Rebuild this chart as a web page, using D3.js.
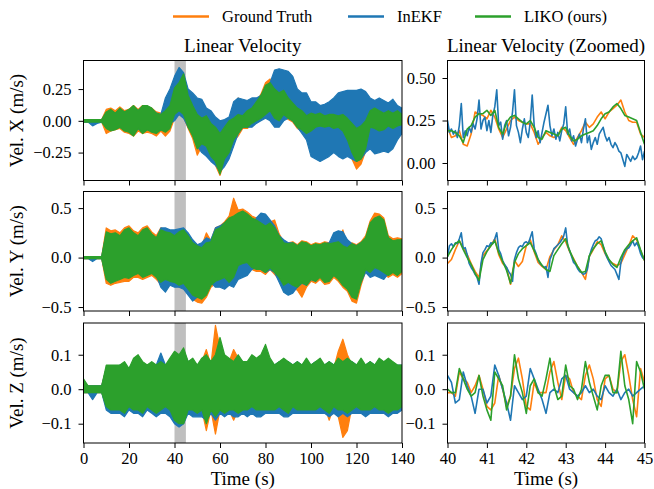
<!DOCTYPE html>
<html>
<head>
<meta charset="utf-8">
<script src="https://cdn.jsdelivr.net/npm/d3@7"></script>
<style>
    body { margin: 0; background: #fff; }
    svg text { font-family: "Liberation Serif", "Times New Roman", serif; fill: #000; }
</style>
</head>
<body>
<div id="chart"></div>
<script>
// ---- data ----
// left column: envelope (min / max) of each signal, sampled every 2 s from 0 to 140 s
var leftTime = d3.range(0, 141, 2);

var velXGtHi   = [0.01,0.01,0.01,0.01,0.01, 0.09,0.10,0.08,0.11,0.08, 0.09,0.12,0.09,0.12,0.11, 0.10,0.07,0.06,0.08,0.12, 0.24,0.28,0.35,0.20,0.12, 0.06,0.03,0.05,-0.01,-0.04, -0.08,-0.04,0.00,0.05,0.18, 0.06,0.08,0.10,0.15,0.21, 0.30,0.33,0.26,0.23,0.24, 0.19,0.15,0.11,0.09,0.05, 0.06,0.05,0.06,0.05,0.05, 0.05,0.04,0.06,0.02,-0.02, -0.06,-0.04,0.00,0.09,0.11, 0.08,0.07,0.09,0.07,0.09, 0.06];
var velXGtLo   = [-0.01,-0.01,-0.01,-0.01,-0.01, -0.10,-0.08,-0.07,-0.06,-0.09, -0.10,-0.12,-0.08,-0.10,-0.09, -0.10,-0.12,-0.08,-0.12,-0.08, 0.02,0.05,0.03,-0.06,-0.14, -0.27,-0.20,-0.22,-0.30,-0.35, -0.43,-0.32,-0.26,-0.16,-0.12, -0.06,-0.06,-0.03,-0.01,0.01, 0.04,0.07,0.01,-0.01,0.04, 0.01,-0.01,-0.06,-0.08,-0.12, -0.09,-0.06,-0.05,-0.06,-0.05, -0.07,-0.06,-0.09,-0.17,-0.30, -0.38,-0.34,-0.24,-0.06,-0.07, -0.09,-0.08,-0.05,-0.07,-0.05, -0.04];
var velXEkfHi  = [0.01,0.01,0.01,0.01,0.01, 0.06,0.08,0.06,0.09,0.07, 0.08,0.11,0.08,0.11,0.11, 0.09,0.06,0.05,0.18,0.25, 0.35,0.42,0.38,0.25,0.22, 0.18,0.17,0.10,0.08,0.03, 0.00,0.01,0.03,0.15,0.18, 0.17,0.16,0.18,0.18,0.20, 0.25,0.30,0.40,0.41,0.40, 0.39,0.35,0.25,0.22,0.22, 0.15,0.15,0.12,0.13,0.15, 0.18,0.22,0.23,0.24,0.24, 0.24,0.25,0.23,0.18,0.16, 0.18,0.16,0.14,0.17,0.12, 0.10];
var velXEkfLo  = [-0.01,-0.01,-0.04,-0.02,-0.01, -0.05,-0.07,-0.06,-0.05,-0.07, -0.08,-0.11,-0.06,-0.09,-0.07, -0.08,-0.09,-0.07,-0.08,-0.02, 0.00,0.05,0.02,-0.05,-0.10, -0.20,-0.25,-0.28,-0.32,-0.35, -0.40,-0.36,-0.30,-0.20,-0.10, -0.05,-0.05,-0.05,-0.02,0.00, 0.02,0.00,-0.05,-0.05,0.00, 0.02,0.00,-0.05,-0.10,-0.15, -0.28,-0.30,-0.32,-0.30,-0.28, -0.25,-0.28,-0.30,-0.28,-0.30, -0.32,-0.30,-0.25,-0.22,-0.26, -0.25,-0.24,-0.25,-0.22,-0.15, -0.10];
var velXLikoHi = [0.01,0.01,0.01,0.01,0.01, 0.07,0.09,0.06,0.10,0.07, 0.09,0.12,0.08,0.12,0.12, 0.10,0.06,0.05,0.08,0.12, 0.26,0.30,0.37,0.20,0.12, 0.05,0.02,0.04,-0.02,-0.05, -0.10,-0.05,0.00,0.02,0.05, 0.04,0.08,0.10,0.15,0.20, 0.28,0.30,0.25,0.22,0.24, 0.18,0.14,0.10,0.08,0.04, 0.06,0.05,0.06,0.04,0.05, 0.05,0.04,0.05,0.02,-0.02, -0.06,-0.04,0.00,0.08,0.10, 0.08,0.06,0.08,0.06,0.08, 0.05];
var velXLikoLo = [-0.01,-0.01,-0.01,-0.01,-0.01, -0.06,-0.08,-0.07,-0.05,-0.08, -0.09,-0.12,-0.06,-0.10,-0.07, -0.09,-0.10,-0.07,-0.09,-0.06, 0.05,0.08,0.05,-0.05,-0.12, -0.22,-0.18,-0.20,-0.28,-0.32, -0.42,-0.30,-0.25,-0.15,-0.10, -0.05,-0.05,-0.02,0.00,0.02, 0.05,0.08,0.02,0.00,0.05, 0.02,0.00,-0.05,-0.07,-0.10, -0.08,-0.05,-0.04,-0.05,-0.04, -0.06,-0.05,-0.08,-0.15,-0.25, -0.32,-0.30,-0.22,-0.05,-0.06, -0.08,-0.07,-0.04,-0.06,-0.04, -0.03];

var velYGtHi   = [0.01,0.01,0.01,0.01,0.01, 0.30,0.27,0.28,0.25,0.30, 0.32,0.27,0.25,0.30,0.32, 0.26,0.22,0.30,0.28,0.26, 0.23,0.27,0.28,0.22,0.16, 0.13,0.12,0.25,0.17,0.30, 0.32,0.36,0.42,0.60,0.48, 0.49,0.46,0.42,0.40,0.36, 0.33,0.36,0.38,0.24,0.16, 0.15,0.16,0.13,0.17,0.16, 0.13,0.15,0.14,0.16,0.15, 0.16,0.17,0.28,0.12,0.15, 0.13,0.16,0.22,0.37,0.45, 0.44,0.40,0.22,0.19,0.20, 0.19];
var velYGtLo   = [-0.01,-0.01,-0.01,-0.01,-0.01, -0.26,-0.28,-0.26,-0.25,-0.24, -0.24,-0.20,-0.20,-0.22,-0.20, -0.18,-0.22,-0.27,-0.24,-0.26, -0.27,-0.30,-0.28,-0.35,-0.42, -0.45,-0.46,-0.40,-0.30,-0.26, -0.24,-0.22,-0.27,-0.22,-0.10, -0.08,-0.07,-0.12,-0.14,-0.14, -0.17,-0.12,-0.17,-0.22,-0.30, -0.28,-0.30,-0.33,-0.40,-0.30, -0.24,-0.26,-0.22,-0.27,-0.26, -0.20,-0.24,-0.30,-0.34,-0.44, -0.46,-0.28,-0.14,-0.17,-0.12, -0.14,-0.17,-0.20,-0.17,-0.20, -0.16];
var velYEkfHi  = [0.01,0.01,0.01,0.01,0.01, 0.24,0.22,0.23,0.20,0.26, 0.28,0.23,0.20,0.26,0.28, 0.22,0.19,0.30,0.30,0.28, 0.28,0.29,0.30,0.25,0.18, 0.13,0.15,0.20,0.18,0.30, 0.32,0.35,0.38,0.40,0.35, 0.30,0.28,0.30,0.40,0.45, 0.44,0.38,0.32,0.22,0.18, 0.15,0.15,0.12,0.14,0.12, 0.10,0.12,0.12,0.14,0.15, 0.25,0.27,0.26,0.18,0.14, 0.12,0.15,0.18,0.30,0.35, 0.38,0.32,0.20,0.16,0.16, 0.16];
var velYEkfLo  = [-0.01,-0.01,-0.04,-0.01,-0.01, -0.20,-0.24,-0.22,-0.20,-0.18, -0.19,-0.16,-0.15,-0.18,-0.17, -0.15,-0.18,-0.30,-0.35,-0.28, -0.30,-0.30,-0.32,-0.38,-0.44, -0.40,-0.38,-0.30,-0.25,-0.30, -0.30,-0.32,-0.28,-0.30,-0.22, -0.20,-0.18,-0.12,-0.10,-0.12, -0.15,-0.12,-0.15,-0.25,-0.35, -0.38,-0.36,-0.30,-0.26,-0.28, -0.22,-0.24,-0.18,-0.22,-0.20, -0.18,-0.20,-0.25,-0.30,-0.33, -0.35,-0.25,-0.15,-0.20,-0.18, -0.20,-0.22,-0.16,-0.14,-0.16, -0.13];
var velYLikoHi = [0.01,0.01,0.01,0.01,0.01, 0.26,0.24,0.25,0.22,0.28, 0.30,0.25,0.22,0.28,0.30, 0.24,0.20,0.28,0.26,0.25, 0.22,0.26,0.28,0.22,0.15, 0.12,0.10,0.15,0.16,0.28, 0.30,0.35,0.40,0.42,0.45, 0.47,0.44,0.40,0.38,0.35, 0.32,0.35,0.30,0.22,0.15, 0.14,0.15,0.12,0.16,0.15, 0.12,0.14,0.13,0.15,0.14, 0.15,0.16,0.12,0.10,0.14, 0.12,0.15,0.20,0.35,0.40, 0.42,0.38,0.20,0.17,0.18, 0.18];
var velYLikoLo = [-0.01,-0.01,-0.01,-0.01,-0.01, -0.22,-0.26,-0.24,-0.22,-0.20, -0.21,-0.18,-0.16,-0.20,-0.18, -0.16,-0.20,-0.25,-0.22,-0.24, -0.25,-0.28,-0.26,-0.32,-0.38, -0.40,-0.42,-0.38,-0.28,-0.24, -0.22,-0.20,-0.25,-0.20,-0.08, -0.06,-0.05,-0.10,-0.12,-0.12, -0.15,-0.10,-0.15,-0.20,-0.28, -0.25,-0.28,-0.30,-0.25,-0.28, -0.22,-0.24,-0.20,-0.25,-0.24, -0.18,-0.22,-0.28,-0.32,-0.40, -0.42,-0.25,-0.12,-0.15,-0.10, -0.12,-0.15,-0.18,-0.15,-0.18, -0.14];

var velZGtHi   = [0.01,0.01,0.01,0.01,0.01, 0.06,0.06,0.06,0.06,0.07, 0.05,0.08,0.09,0.07,0.06, 0.07,0.06,0.07,0.06,0.08, 0.10,0.09,0.11,0.07,0.08, 0.06,0.08,0.115,0.07,0.185, 0.12,0.09,0.08,0.115,0.09, 0.07,0.07,0.09,0.08,0.09, 0.11,0.08,0.06,0.07,0.08, 0.07,0.06,0.07,0.06,0.08, 0.06,0.07,0.08,0.06,0.07, 0.06,0.11,0.145,0.10,0.07, 0.06,0.08,0.06,0.07,0.06, 0.08,0.07,0.08,0.07,0.06, 0.06];
var velZGtLo   = [-0.01,-0.01,-0.01,-0.01,-0.01, -0.05,-0.05,-0.05,-0.05,-0.06, -0.05,-0.05,-0.05,-0.06,-0.05, -0.05,-0.06,-0.05,-0.05,-0.05, -0.08,-0.09,-0.09,-0.05,-0.06, -0.06,-0.06,-0.12,-0.06,-0.13, -0.06,-0.06,-0.06,-0.09,-0.06, -0.05,-0.05,-0.05,-0.05,-0.05, -0.05,-0.05,-0.05,-0.05,-0.05, -0.06,-0.05,-0.05,-0.05,-0.05, -0.05,-0.05,-0.05,-0.05,-0.09, -0.05,-0.08,-0.14,-0.12,-0.05, -0.05,-0.05,-0.05,-0.05,-0.05, -0.05,-0.05,-0.06,-0.05,-0.05, -0.05];
var velZEkfHi  = [0.01,0.01,0.01,0.01,0.01, 0.06,0.06,0.06,0.07,0.07, 0.06,0.08,0.09,0.07,0.07, 0.07,0.07,0.105,0.07,0.08, 0.10,0.09,0.11,0.08,0.08, 0.07,0.08,0.09,0.08,0.09, 0.12,0.09,0.08,0.07,0.09, 0.08,0.07,0.09,0.08,0.09, 0.11,0.08,0.07,0.08,0.08, 0.08,0.07,0.08,0.07,0.08, 0.07,0.08,0.08,0.07,0.08, 0.07,0.08,0.08,0.08,0.08, 0.07,0.08,0.07,0.08,0.07, 0.08,0.08,0.08,0.07,0.07, 0.07];
var velZEkfLo  = [-0.01,-0.01,-0.03,-0.01,-0.01, -0.06,-0.07,-0.07,-0.07,-0.08, -0.06,-0.07,-0.07,-0.08,-0.06, -0.07,-0.08,-0.07,-0.07,-0.08, -0.10,-0.11,-0.10,-0.07,-0.08, -0.08,-0.08,-0.09,-0.07,-0.09, -0.07,-0.08,-0.07,-0.08,-0.08, -0.07,-0.08,-0.07,-0.08,-0.08, -0.07,-0.07,-0.07,-0.07,-0.08, -0.08,-0.07,-0.07,-0.07,-0.07, -0.07,-0.07,-0.07,-0.07,-0.08, -0.07,-0.08,-0.07,-0.08,-0.07, -0.07,-0.07,-0.08,-0.07,-0.07, -0.07,-0.07,-0.08,-0.07,-0.07, -0.06];
var velZLikoHi = [0.03,0.01,0.01,0.01,0.01, 0.07,0.07,0.07,0.07,0.08, 0.06,0.09,0.10,0.08,0.07, 0.08,0.07,0.08,0.07,0.09, 0.11,0.10,0.12,0.08,0.09, 0.07,0.09,0.10,0.08,0.10, 0.15,0.10,0.09,0.08,0.10, 0.08,0.08,0.10,0.09,0.10, 0.13,0.09,0.07,0.08,0.09, 0.08,0.07,0.08,0.07,0.09, 0.07,0.08,0.09,0.07,0.08, 0.07,0.09,0.08,0.09,0.08, 0.07,0.09,0.07,0.08,0.07, 0.09,0.08,0.09,0.08,0.07, 0.07];
var velZLikoLo = [-0.01,-0.01,-0.01,-0.01,-0.01, -0.05,-0.06,-0.06,-0.06,-0.07, -0.05,-0.06,-0.06,-0.07,-0.05, -0.06,-0.07,-0.06,-0.05,-0.06, -0.09,-0.10,-0.10,-0.06,-0.06, -0.07,-0.06,-0.10,-0.06,-0.08, -0.06,-0.07,-0.06,-0.06,-0.07, -0.06,-0.06,-0.05,-0.06,-0.06, -0.06,-0.06,-0.06,-0.05,-0.06, -0.07,-0.05,-0.06,-0.06,-0.06, -0.06,-0.06,-0.05,-0.06,-0.07, -0.05,-0.06,-0.06,-0.07,-0.06, -0.05,-0.06,-0.06,-0.06,-0.05, -0.06,-0.06,-0.07,-0.06,-0.06, -0.05];

// right column: 40 s to 45 s, samples spread evenly over the window
var zoomStart = 40, zoomEnd = 45;

var zoomXGt   = [0.21,0.15,0.16,0.19,0.11, 0.10,0.17,0.30,0.29,0.28, 0.26,0.31,0.27,0.20,0.15, 0.20,0.25,0.27,0.25,0.24, 0.23,0.23,0.18,0.11,0.15, 0.18,0.16,0.15,0.16,0.21, 0.19,0.15,0.11,0.15,0.19, 0.24,0.21,0.23,0.27,0.30, 0.26,0.30,0.32,0.34,0.37, 0.30,0.25,0.24,0.24,0.17, 0.15];
var zoomXEkf  = [0.25,0.18,0.20,0.17,0.19,0.15,0.22,0.35,0.15,0.19, 0.16,0.21,0.18,0.23,0.20,0.26,0.37,0.20,0.25,0.27, 0.19,0.25,0.18,0.28,0.33,0.43,0.22,0.24,0.14,0.22, 0.25,0.16,0.21,0.30,0.43,0.22,0.18,0.12,0.20,0.26, 0.18,0.15,0.24,0.40,0.22,0.15,0.19,0.12,0.18,0.24, 0.29,0.34,0.22,0.16,0.20,0.14,0.18,0.13,0.19,0.23, 0.33,0.17,0.20,0.13,0.16,0.10,0.14,0.17,0.12,0.20, 0.26,0.12,0.16,0.08,0.12,0.15,0.11,0.17,0.19,0.21, 0.16,0.13,0.15,0.11,0.09,0.12,0.10,0.07,0.06,0.02, -0.02,0.05,0.03,0.01,0.04,0.02,0.03,0.06,0.10,0.02, 0.07];
var zoomXLiko = [0.19,0.19,0.18,0.16,0.12, 0.20,0.22,0.27,0.29,0.29, 0.31,0.28,0.31,0.21,0.17, 0.24,0.27,0.28,0.26,0.24, 0.23,0.25,0.21,0.15,0.14, 0.19,0.18,0.17,0.16,0.20, 0.21,0.16,0.13,0.14,0.16, 0.17,0.18,0.19,0.22,0.26, 0.29,0.30,0.33,0.35,0.32, 0.28,0.27,0.26,0.25,0.18, 0.11];

var zoomYGt   = [-0.06,-0.02,0.08,0.17,0.10, 0.03,-0.06,-0.14,-0.20,0.02, 0.07,0.12,0.19,0.03,-0.06, -0.10,-0.27,-0.03,-0.09,-0.04, 0.12,0.18,0.06,-0.05,-0.09, -0.12,0.01,0.08,0.13,0.22, 0.16,0.06,-0.01,-0.09,-0.15, -0.22,0.01,0.08,0.16,0.13, 0.04,-0.03,-0.06,-0.08,-0.06, 0.03,0.12,0.22,0.18,0.07, -0.03];
var zoomYEkf  = [0.01,0.12,0.14,0.11,0.15,0.14,0.19,0.25,0.09,0.10, 0.03,-0.06,-0.10,-0.13,-0.17,-0.20,-0.27,-0.06,0.05,0.08, 0.12,0.11,0.15,0.14,0.19,0.25,0.08,0.04,-0.03,-0.07, -0.10,-0.14,-0.17,-0.24,-0.02,0.05,0.10,0.12,0.11,0.15, 0.16,0.14,0.20,0.26,0.09,0.04,-0.02,-0.06,-0.08,-0.10, -0.09,-0.20,-0.02,0.03,0.09,0.11,0.13,0.15,0.18,0.22, 0.30,0.12,0.07,0.01,-0.05,-0.07,-0.11,-0.14,-0.15,-0.17, -0.16,-0.12,0.01,0.08,0.13,0.17,0.18,0.21,0.19,0.12, 0.05,0.00,-0.04,-0.08,-0.10,-0.12,-0.17,-0.22,-0.05,0.02, 0.06,0.09,0.10,0.13,0.17,0.12,0.15,0.11,0.04,0.00, -0.02];
var zoomYLiko = [0.01,0.08,0.14,0.17,0.08, 0.00,-0.07,-0.16,-0.23,-0.02, 0.06,0.12,0.17,0.05,-0.04, -0.13,-0.26,-0.05,0.04,0.09, 0.12,0.15,0.07,-0.02,-0.08, -0.12,-0.14,0.02,0.08,0.14, 0.19,0.07,-0.02,-0.09,-0.15, -0.14,0.02,0.09,0.14,0.17, 0.06,-0.02,-0.07,-0.10,0.00, 0.08,0.13,0.17,0.20,0.08, -0.03];

var zoomZGt   = [-0.01,-0.01,-0.02,0.05,0.03, 0.02,-0.01,0.01,0.04,0.00, -0.05,-0.06,-0.04,0.04,0.00, -0.05,-0.02,0.06,0.09,0.03, -0.05,-0.06,0.02,-0.01,-0.01, -0.01,0.05,0.08,0.02,-0.03, 0.04,0.03,-0.01,-0.02,-0.03, 0.04,0.07,0.03,-0.03,-0.05, 0.03,0.04,0.00,-0.01,0.08, 0.10,0.04,-0.03,-0.08,0.06, 0.02];
var zoomZEkf  = [0.04,0.02,-0.04,-0.03,0.05, 0.01,-0.02,-0.07,0.00,0.00, -0.04,-0.02,0.07,0.04,0.00, -0.04,-0.09,0.01,-0.01,-0.03, -0.02,0.06,0.03,0.00,-0.03, -0.07,-0.01,0.00,-0.01,0.03, 0.04,0.00,-0.01,-0.02,-0.01, 0.01,-0.01,0.00,-0.02,-0.03, 0.01,-0.01,-0.02,0.00,-0.03, -0.01,0.00,-0.02,-0.01,0.00, 0.01];
var zoomZLiko = [0.00,-0.01,-0.01,0.06,0.03, 0.00,-0.02,-0.01,0.04,-0.02, -0.06,-0.09,0.05,0.03,0.01, -0.06,-0.02,0.10,0.03,-0.01, -0.07,0.01,0.03,-0.01,-0.02, 0.03,0.09,0.01,-0.03,-0.02, 0.07,0.01,0.00,-0.03,0.00, 0.08,0.02,-0.02,-0.06,0.01, 0.04,0.04,-0.01,-0.01,0.11, 0.01,-0.03,-0.10,0.08,0.05, 0.00];

var seriesNames  = ['Ground Truth', 'InEKF', 'LIKO (ours)'];
var seriesColors = ['#ff7f0e', '#1f77b4', '#2ca02c'];

var rowLabels = ['Vel. X (m/s)', 'Vel. Y (m/s)', 'Vel. Z (m/s)'];
var leftTicksX = [0, 20, 40, 60, 80, 100, 120, 140];
var rightTicksX = [40, 41, 42, 43, 44, 45];
var yTicks = [[-0.25, 0, 0.25], [-0.5, 0, 0.5], [-0.1, 0, 0.1]];
var yTicksRight = [[0, 0.25, 0.5], [-0.5, 0, 0.5], [-0.1, 0, 0.1]];
var yFormats = ['.2f', '.1f', '.1f'];

// ---- layout ----
var W = 654, H = 489;
var cols = [
    { x0: 83.5, x1: 402, domain: [0, 140], ticks: leftTicksX },
    { x0: 447.5, x1: 644.5, domain: [zoomStart, zoomEnd], ticks: rightTicksX }
];
var rows = [
    { y0: 60.5, y1: 180.5, left: [-0.47, 0.475], right: [-0.103, 0.603] },
    { y0: 191.5, y1: 311, left: [-0.54, 0.668], right: [-0.54, 0.668] },
    { y0: 323, y1: 443, left: [-0.156, 0.192], right: [-0.156, 0.192] }
];

var envelopes = [
    [[velXGtLo, velXGtHi], [velXEkfLo, velXEkfHi], [velXLikoLo, velXLikoHi]],
    [[velYGtLo, velYGtHi], [velYEkfLo, velYEkfHi], [velYLikoLo, velYLikoHi]],
    [[velZGtLo, velZGtHi], [velZEkfLo, velZEkfHi], [velZLikoLo, velZLikoHi]]
];
var zoomed = [
    [zoomXGt, zoomXEkf, zoomXLiko],
    [zoomYGt, zoomYEkf, zoomYLiko],
    [zoomZGt, zoomZEkf, zoomZLiko]
];

var svg = d3.select('#chart').append('svg')
    .attr('width', W)
    .attr('height', H);
var defs = svg.append('defs');

function styleAxis(g) {
    g.select('.domain').remove();
    g.selectAll('.tick line').attr('stroke', '#000').attr('stroke-width', 1);
    g.selectAll('.tick text')
        .attr('font-size', '16.5px')
        .attr('font-family', '"Liberation Serif", "Times New Roman", serif')
        .attr('fill', '#000');
}

rows.forEach(function(row, r) {
    cols.forEach(function(col, c) {
        var x = d3.scaleLinear().domain(col.domain).range([col.x0, col.x1]);
        var y = d3.scaleLinear().domain(c === 0 ? row.left : row.right).range([row.y1, row.y0]);

        var clipId = 'clip-' + r + '-' + c;
        defs.append('clipPath').attr('id', clipId)
            .append('rect')
            .attr('x', col.x0).attr('y', row.y0)
            .attr('width', col.x1 - col.x0).attr('height', row.y1 - row.y0);

        var plot = svg.append('g').attr('clip-path', 'url(#' + clipId + ')');

        if (c === 0) {
            // highlighted window that the right column zooms into
            plot.append('rect')
                .attr('x', x(zoomStart))
                .attr('y', row.y0)
                .attr('width', x(zoomEnd) - x(zoomStart))
                .attr('height', row.y1 - row.y0)
                .attr('fill', '#bfbfbf');

            envelopes[r].forEach(function(env, s) {
                var area = d3.area()
                    .x(function(d, i) { return x(leftTime[i]); })
                    .y0(function(d, i) { return y(env[0][i]); })
                    .y1(function(d, i) { return y(env[1][i]); });
                plot.append('path')
                    .datum(leftTime)
                    .attr('d', area)
                    .attr('fill', seriesColors[s])
                    .attr('stroke', seriesColors[s])
                    .attr('stroke-width', 1.2)
                    .attr('stroke-linejoin', 'round');
            });
        } else {
            zoomed[r].forEach(function(vals, s) {
                var n = vals.length;
                var line = d3.line()
                    .x(function(d, i) { return x(zoomStart + i * (zoomEnd - zoomStart) / (n - 1)); })
                    .y(function(d) { return y(d); });
                plot.append('path')
                    .datum(vals)
                    .attr('d', line)
                    .attr('fill', 'none')
                    .attr('stroke', seriesColors[s])
                    .attr('stroke-width', 1.6)
                    .attr('stroke-linejoin', 'round');
            });
        }

        // axes
        var xAxis = d3.axisBottom(x)
            .tickValues(col.ticks)
            .tickSize(5)
            .tickPadding(4.5)
            .tickFormat(r === 2 ? d3.format('d') : function() { return ''; });
        svg.append('g')
            .attr('transform', 'translate(0,' + row.y1 + ')')
            .call(xAxis)
            .call(styleAxis);

        var yAxis = d3.axisLeft(y)
            .tickValues(c === 0 ? yTicks[r] : yTicksRight[r])
            .tickSize(5)
            .tickPadding(7)
            .tickFormat(d3.format(yFormats[r]));
        svg.append('g')
            .attr('transform', 'translate(' + col.x0 + ',0)')
            .call(yAxis)
            .call(styleAxis);

        svg.append('rect')
            .attr('x', col.x0).attr('y', row.y0)
            .attr('width', col.x1 - col.x0).attr('height', row.y1 - row.y0)
            .attr('fill', 'none')
            .attr('stroke', '#000')
            .attr('stroke-width', 1);
    });

    svg.append('text')
        .attr('transform', 'translate(23,' + ((row.y0 + row.y1) / 2) + ') rotate(-90)')
        .attr('text-anchor', 'middle')
        .attr('font-size', '19px')
        .text(rowLabels[r]);
});

// column titles and x labels
var titles = ['Linear Velocity', 'Linear Velocity (Zoomed)'];
cols.forEach(function(col, c) {
    svg.append('text')
        .attr('x', (col.x0 + col.x1) / 2)
        .attr('y', 52)
        .attr('text-anchor', 'middle')
        .attr('font-size', '19px')
        .text(titles[c]);
    svg.append('text')
        .attr('x', (col.x0 + col.x1) / 2)
        .attr('y', 484.5)
        .attr('text-anchor', 'middle')
        .attr('font-size', '19px')
        .text('Time (s)');
});

// legend
var legendX = [173, 348, 475];
var legend = svg.append('g').attr('class', 'legend');
seriesNames.forEach(function(name, s) {
    legend.append('line')
        .attr('x1', legendX[s]).attr('x2', legendX[s] + 36)
        .attr('y1', 16.5).attr('y2', 16.5)
        .attr('stroke', seriesColors[s])
        .attr('stroke-width', 2.5);
    legend.append('text')
        .attr('x', legendX[s] + 49)
        .attr('y', 22)
        .attr('font-size', '16.5px')
        .text(name);
});
</script>
</body>
</html>
